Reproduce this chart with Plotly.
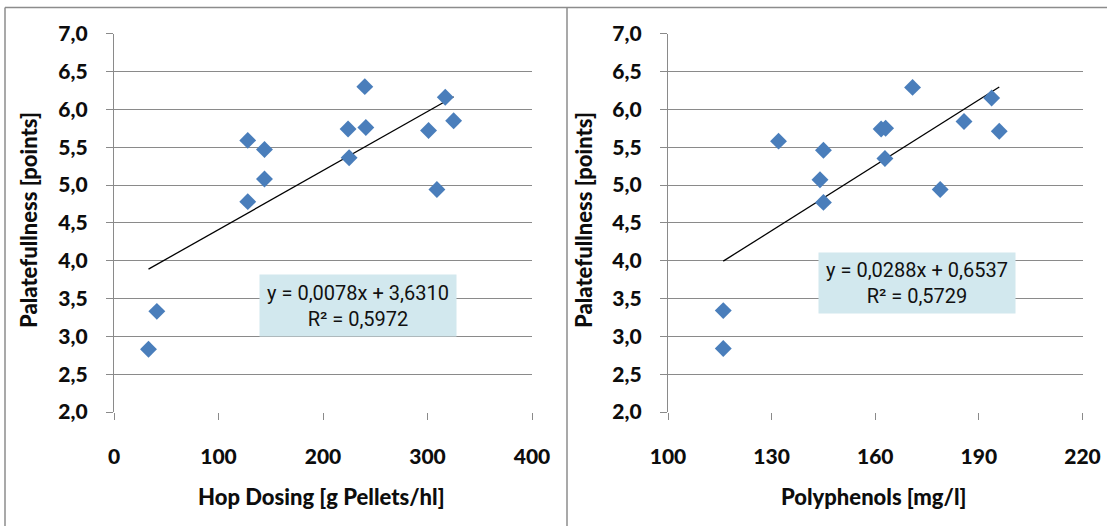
import plotly.graph_objects as go

# ---- data ----
hop_dosing = [33, 41, 128, 128, 144, 144, 224, 225, 240, 241, 301, 309, 317, 325]
hop_palate = [2.83, 3.33, 5.59, 4.78, 5.47, 5.08, 5.74, 5.36, 6.30, 5.76, 5.72, 4.94, 6.16, 5.85]

polyphenols = [116, 116, 132, 145, 144, 145, 161.7, 163, 162.8, 170.8, 178.8, 185.7, 193.7, 195.9]
poly_palate = [2.84, 3.34, 5.58, 5.46, 5.07, 4.77, 5.74, 5.75, 5.35, 6.29, 4.94, 5.84, 6.15, 5.71]

hop_slope, hop_intercept, hop_r2 = 0.0078, 3.6310, 0.5972
poly_slope, poly_intercept, poly_r2 = 0.0288, 0.6537, 0.5729

y_ticks = [2.0, 2.5, 3.0, 3.5, 4.0, 4.5, 5.0, 5.5, 6.0, 6.5, 7.0]
y_labels = ["2,0", "2,5", "3,0", "3,5", "4,0", "4,5", "5,0", "5,5", "6,0", "6,5", "7,0"]
hop_x_ticks = [0, 100, 200, 300, 400]
poly_x_ticks = [100, 130, 160, 190, 220]

hop_eq = "y = 0,0078x + 3,6310<br>R² = 0,5972"
poly_eq = "y = 0,0288x + 0,6537<br>R² = 0,5729"

W, H = 1107, 526
GRID = "#8a8a8a"
BLUE = "#4a7ebb"
TICKFONT = dict(family="Lato, sans-serif", size=21, color="#0d0d0d", weight=900)

fig = go.Figure()

def trend(xs, m, b):
    x0, x1 = min(xs), max(xs)
    return [x0, x1], [m * x0 + b, m * x1 + b]

tx, ty = trend(hop_dosing, hop_slope, hop_intercept)
fig.add_trace(go.Scatter(x=tx, y=ty, mode="lines", line=dict(color="black", width=1.3),
                         xaxis="x", yaxis="y", showlegend=False, hoverinfo="skip"))
fig.add_trace(go.Scatter(x=hop_dosing, y=hop_palate, mode="markers",
                         marker=dict(symbol="diamond", size=13, color=BLUE, line=dict(width=0)),
                         xaxis="x", yaxis="y", showlegend=False))
tx, ty = trend(polyphenols, poly_slope, poly_intercept)
fig.add_trace(go.Scatter(x=tx, y=ty, mode="lines", line=dict(color="black", width=1.3),
                         xaxis="x2", yaxis="y2", showlegend=False, hoverinfo="skip"))
fig.add_trace(go.Scatter(x=polyphenols, y=poly_palate, mode="markers",
                         marker=dict(symbol="diamond", size=13, color=BLUE, line=dict(width=0)),
                         xaxis="x2", yaxis="y2", showlegend=False))

def px(x):
    return x / W

def py(y):
    return 1 - y / H

ydom = [py(412), py(33.7)]

xcommon = dict(showgrid=False, zeroline=False, showline=False, ticks="outside", ticklen=7,
               tickcolor=GRID, tickwidth=1.3, tickfont=TICKFONT, ticklabelstandoff=19,
               fixedrange=True, automargin=False)
ycommon = dict(range=[2, 7], tickvals=y_ticks, ticktext=y_labels, showgrid=True,
               gridcolor=GRID, gridwidth=1.3, zeroline=False, showline=True, linecolor=GRID,
               linewidth=1.3, ticks="outside", ticklen=7, tickcolor=GRID, tickwidth=1.3,
               tickfont=TICKFONT, ticklabelstandoff=14, fixedrange=True, automargin=False)

fig.update_layout(
    width=W, height=H,
    margin=dict(l=0, r=0, t=0, b=0, autoexpand=False),
    paper_bgcolor="white", plot_bgcolor="white",
    xaxis=dict(domain=[px(114), px(532)], range=[0, 400], tickvals=hop_x_ticks,
               ticktext=[str(v) for v in hop_x_ticks], anchor="y", **xcommon),
    yaxis=dict(domain=ydom, anchor="x", **ycommon),
    xaxis2=dict(domain=[px(668), px(1082.5)], range=[100, 220], tickvals=poly_x_ticks,
                ticktext=[str(v) for v in poly_x_ticks], anchor="y2", **xcommon),
    yaxis2=dict(domain=ydom, anchor="x2", **ycommon),
    showlegend=False,
)

BORDER = "#8c8c8c"
shapes = [
    dict(type="line", xref="paper", yref="paper", x0=px(5), x1=1, y0=py(7.5), y1=py(7.5),
         line=dict(color=BORDER, width=1.5)),
    dict(type="line", xref="paper", yref="paper", x0=px(5), x1=px(5), y0=0, y1=py(7.5),
         line=dict(color=BORDER, width=1.5)),
    dict(type="line", xref="paper", yref="paper", x0=px(567), x1=px(567), y0=0, y1=py(7.5),
         line=dict(color=BORDER, width=1.5)),
]
fig.update_layout(shapes=shapes)

TITLEFONT = dict(family="Lato, sans-serif", size=22, color="#0d0d0d", weight=900)
EQFONT = dict(family="Roboto, sans-serif", size=20, color="#111111")

ann = [
    dict(text="Hop Dosing [g Pellets/hl]", x=px(321), y=py(496), xref="paper", yref="paper",
         showarrow=False, font=TITLEFONT, xanchor="center", yanchor="middle"),
    dict(text="Polyphenols [mg/l]", x=px(873), y=py(496), xref="paper", yref="paper",
         showarrow=False, font=TITLEFONT, xanchor="center", yanchor="middle"),
    dict(text="Palatefullness [points]", x=px(28), y=py(220), xref="paper", yref="paper",
         showarrow=False, font=TITLEFONT, textangle=-90, xanchor="center", yanchor="middle"),
    dict(text="Palatefullness [points]", x=px(583), y=py(220), xref="paper", yref="paper",
         showarrow=False, font=TITLEFONT, textangle=-90, xanchor="center", yanchor="middle"),
    dict(text=hop_eq, x=px(358), y=py(305), xref="paper", yref="paper", showarrow=False,
         font=EQFONT, bgcolor="#d2e8ee", width=196, height=61, align="center",
         xanchor="center", yanchor="middle", borderpad=0),
    dict(text=poly_eq, x=px(917), y=py(283), xref="paper", yref="paper", showarrow=False,
         font=EQFONT, bgcolor="#d2e8ee", width=196, height=60, align="center",
         xanchor="center", yanchor="middle", borderpad=0),
]
fig.update_layout(annotations=ann)

fig.write_html("out.html")
